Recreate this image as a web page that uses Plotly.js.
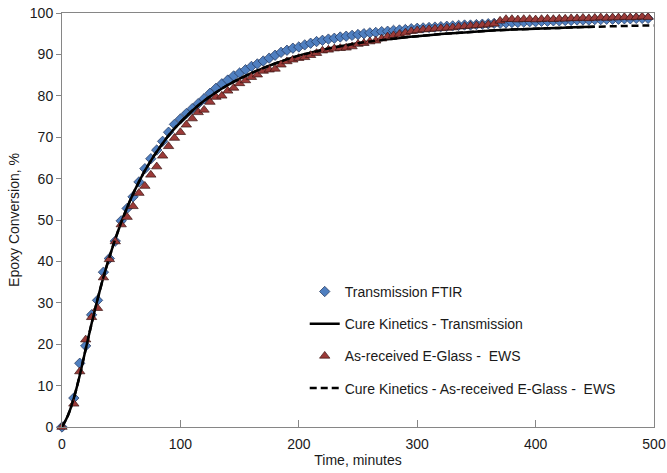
<!DOCTYPE html>
<html>
<head>
<meta charset="utf-8">
<script src="https://cdn.plot.ly/plotly-3.0.1.min.js"></script>
<style>html,body{margin:0;padding:0;background:#fff;}#chart{width:667px;height:473px;}</style>
</head>
<body>
<div id="chart"></div>
<script>
// Measurement times (minutes)
var timeData = [0,10,15,20,25,30,35,40,45,50,55,60,65,70,75,80,85,90,95,100,
  105,110,115,120,125,130,135,140,145,150,155,160,165,170,175,180,185,190,195,200,
  205,210,215,220,225,230,235,240,245,250,255,260,265,270,275,280,285,290,295,300,
  305,310,315,320,325,330,335,340,345,350,355,360,365,370,375,380,385,390,395,400,
  405,410,415,420,425,430,435,440,445,450,455,460,465,470,475,480,485,490,495];

// Transmission FTIR (%)
var transmissionFTIR = [0,7.0,15.4,19.6,27.1,30.6,37.4,40.7,44.9,49.8,52.8,55.6,59.2,62.4,64.8,66.9,69.0,71.2,73.1,74.4,
  75.7,76.9,78.1,79.3,80.6,81.8,82.9,83.8,84.8,85.5,86.3,87.1,87.7,88.4,89.1,89.8,90.5,91.0,91.5,91.8,
  92.3,92.7,93.1,93.4,93.7,93.9,94.2,94.4,94.6,94.8,95.0,95.2,95.3,95.5,95.6,95.8,95.9,96.0,96.2,96.3,
  96.4,96.5,96.6,96.7,96.8,96.9,97.0,97.1,97.1,97.2,97.3,97.4,97.5,97.5,97.6,97.7,97.7,97.8,97.9,97.9,
  98.0,98.0,98.1,98.1,98.2,98.2,98.3,98.3,98.3,98.4,98.4,98.5,98.5,98.5,98.6,98.6,98.7,98.7,98.7];

// As-received E-Glass - EWS (%)
var eGlassEWS = [0,5.6,13.4,21.1,26.5,28.7,36.1,40.5,44.8,48.9,50.7,53.3,56.5,58.2,60.9,62.9,65.5,67.8,69.8,71.2,
  73.0,74.5,76.0,76.6,78.5,79.7,80.0,81.2,81.9,83.0,83.7,84.5,85.1,86.0,86.3,86.5,87.5,88.3,88.7,89.1,
  89.3,89.8,90.3,90.9,91.1,91.4,91.5,91.6,91.9,92.5,92.7,93.1,93.3,93.8,94.3,94.6,94.9,95.2,95.6,95.8,
  96.0,96.1,96.2,96.3,96.4,96.5,96.7,96.8,96.9,97.0,97.1,97.2,97.4,98.1,98.5,98.5,98.4,98.5,98.5,98.4,
  98.5,98.6,98.5,98.6,98.6,98.7,98.7,98.8,98.7,98.8,98.9,98.8,98.9,98.9,99.0,98.9,99.0,99.1,99.0];

// Cure kinetics model - Transmission
var kinTimeT = [0,5,10,15,20,25,30,35,40,45,50,55,60,65,70,75,80,85,90,95,100,110,120,130,140,150,160,170,180,190,200,210,220,230,240,250,260,280,300,320,340,360,380,400,420,440,450];
var kinT = [0,2.8,7.0,12.5,18.8,25.0,30.8,36.2,41.0,45.4,49.4,53.0,56.3,59.2,61.9,64.3,66.5,68.5,70.4,72.1,73.6,76.4,78.8,80.8,82.6,84.1,85.5,86.7,87.8,88.8,89.7,90.4,91.1,91.7,92.2,92.7,93.1,93.8,94.4,94.9,95.3,95.7,96.0,96.2,96.4,96.6,96.7];

// Cure kinetics model - As-received E-Glass - EWS
var kinTimeE = [0,5,10,15,20,25,30,35,40,45,50,55,60,65,70,75,80,85,90,95,100,110,120,130,140,150,160,170,180,190,200,210,220,230,240,250,260,280,300,320,340,360,380,400,420,440,460,480,500];
var kinE = [0,2.8,7.0,12.5,18.8,25.0,30.8,36.2,41.0,45.4,49.4,53.0,56.3,59.2,61.9,64.3,66.5,68.5,70.4,72.1,73.6,76.4,78.8,80.8,82.6,84.1,85.5,86.7,87.8,88.8,89.7,90.4,91.1,91.7,92.2,92.7,93.1,93.8,94.4,94.9,95.3,95.7,96.0,96.2,96.4,96.6,96.75,96.9,97.0];

var seriesNames = ['Transmission FTIR','Cure Kinetics - Transmission','As-received E-Glass -  EWS','Cure Kinetics - As-received E-Glass -  EWS'];

var traces = [
  {x: timeData, y: transmissionFTIR, name: seriesNames[0], type: 'scatter', mode: 'markers', cliponaxis: false,
   legendgroup: 'a',
   marker: {symbol: 'diamond', size: 8, color: '#4F7FC0', line: {color: '#1F3056', width: 0.7}}},
  {x: kinTimeT, y: kinT, name: seriesNames[1], type: 'scatter', mode: 'lines', cliponaxis: false,
   legendgroup: 'b',
   line: {color: '#000000', width: 2.5, shape: 'spline'}},
  {x: timeData, y: eGlassEWS, name: seriesNames[2], type: 'scatter', mode: 'markers', cliponaxis: false,
   legendgroup: 'c',
   marker: {symbol: 'triangle-up', size: 9, color: '#9B3A38', line: {color: '#3A1413', width: 0.7}}},
  {x: kinTimeE, y: kinE, name: seriesNames[3], type: 'scatter', mode: 'lines', cliponaxis: false,
   legendgroup: 'd',
   line: {color: '#000000', width: 2.5, dash: '7px,4px', shape: 'spline'}}
];

var layout = {
  width: 667, height: 473,
  margin: {l: 62, r: 13, t: 13, b: 46},
  paper_bgcolor: '#ffffff', plot_bgcolor: '#ffffff',
  font: {family: 'Liberation Sans, Arial, sans-serif', size: 14, color: '#1a1a1a'},
  showlegend: true,
  legend: {x: 0.41, y: 0.365, xanchor: 'left', yanchor: 'top', bgcolor: 'rgba(0,0,0,0)',
           traceorder: 'grouped', tracegroupgap: 11, font: {size: 14, color: '#1a1a1a'}},
  xaxis: {range: [0, 500], dtick: 100, tick0: 0, showgrid: false, zeroline: false,
          showline: true, linecolor: '#868686', linewidth: 1, mirror: true,
          ticks: 'inside', ticklen: 7, tickcolor: '#868686', tickwidth: 1,
          ticklabelstandoff: 4,
          tickfont: {size: 14}, title: {text: 'Time, minutes', font: {size: 14}, standoff: 4}},
  yaxis: {range: [0, 100], dtick: 10, tick0: 0, showgrid: false, zeroline: false,
          showline: true, linecolor: '#868686', linewidth: 1, mirror: true,
          ticks: 'outside', ticklen: 5, tickcolor: '#868686', tickwidth: 1,
          tickfont: {size: 14}, title: {text: 'Epoxy Conversion, %', font: {size: 14}, standoff: 6}}
};

Plotly.newPlot('chart', traces, layout, {displayModeBar: false, staticPlot: true});
</script>
</body>
</html>
